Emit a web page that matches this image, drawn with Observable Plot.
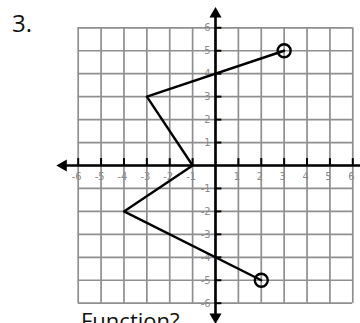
<!DOCTYPE html>
<html><head><meta charset="utf-8">
<script src="https://cdn.jsdelivr.net/npm/d3@7"></script>
<script src="https://cdn.jsdelivr.net/npm/@observablehq/plot@0.6"></script>
<style>
body{margin:0;background:#fff;}
#wrap{position:relative;width:360px;height:323px;overflow:hidden;}
#num{position:absolute;left:12px;top:6px;font-size:24px;font-family:"Open Sans";line-height:normal;color:#111;}
#q{position:absolute;left:81px;top:305px;font-size:22px;font-family:"Open Sans";line-height:normal;color:#111;}
#wrap svg{position:absolute;left:0;top:0;}
</style></head><body><div id="wrap"></div>
<script>
const problemNumber = "3.";
const question = "Function?";
const gridValues = [-6,-5,-4,-3,-2,-1,0,1,2,3,4,5,6];
const tickLabels = [-6,-5,-4,-3,-2,-1,1,2,3,4,5,6];
const pathX = [3,-3,-1,-4,2];
const pathY = [5,3,0,-2,-5];
const openX = [3,2];
const openY = [5,-5];

const path = pathX.map((x,i)=>({x, y:pathY[i]}));
const opens = openX.map((x,i)=>({x, y:openY[i]}));
const tl = tickLabels.map(v=>({v}));

const chart = Plot.plot({
  width: 360, height: 323,
  marginLeft: 77.7, marginRight: 7.7, marginTop: 27.3, marginBottom: 20.3,
  x: {domain: [-6,6], axis: null},
  y: {domain: [-6,6], axis: null},
  style: {background: "transparent"},
  marks: [
    Plot.ruleX(gridValues, {y1: -6, y2: 6, stroke: "#8f8f8f", strokeWidth: 1.7}),
    Plot.ruleY(gridValues, {x1: -6, x2: 6, stroke: "#8f8f8f", strokeWidth: 1.7}),
    Plot.ruleY([0], {x1: -6.55, x2: 6.5, stroke: "#000", strokeWidth: 2.6}),
    Plot.ruleX([0], {y1: 6.55, y2: -6.5, stroke: "#000", strokeWidth: 2.6}),
    Plot.ruleX(tickLabels, {y1: 0, y2: 0.3, stroke: "#000", strokeWidth: 2}),
    Plot.ruleY(tickLabels, {x1: 0, x2: 0.28, stroke: "#000", strokeWidth: 2}),
    Plot.dot([0], {x: -6.65, y: 0, symbol: "triangle", rotate: -90, r: 4.5, fill: "#000", stroke: "none"}),
    Plot.dot([0], {x: 0, y: 6.6, symbol: "triangle", rotate: 0, r: 4.5, fill: "#000", stroke: "none"}),
    Plot.dot([0], {x: 0, y: -6.6, symbol: "triangle", rotate: 180, r: 4.5, fill: "#000", stroke: "none"}),
    Plot.text(tl, {x: "v", y: 0, text: d => String(d.v), dy: 10.5, dx: -1.5, fill: "#8a8a8a", fontSize: 11, fontFamily: "DejaVu Sans Condensed"}),
    Plot.text(tl, {x: 0, y: "v", text: d => String(d.v), dx: -5, textAnchor: "end", fill: "#8a8a8a", fontSize: 11, fontFamily: "DejaVu Sans Condensed"}),
    Plot.line(path, {x: "x", y: "y", stroke: "#000", strokeWidth: 2.4}),
    Plot.dot(opens, {x: "x", y: "y", r: 6.5, stroke: "#000", strokeWidth: 2.4, fill: "none"})
  ]
});
const wrap = document.getElementById("wrap");
wrap.appendChild(chart);
const n = document.createElement("div"); n.id = "num"; n.textContent = problemNumber; wrap.appendChild(n);
const q = document.createElement("div"); q.id = "q"; q.textContent = question; wrap.appendChild(q);
</script></body></html>
